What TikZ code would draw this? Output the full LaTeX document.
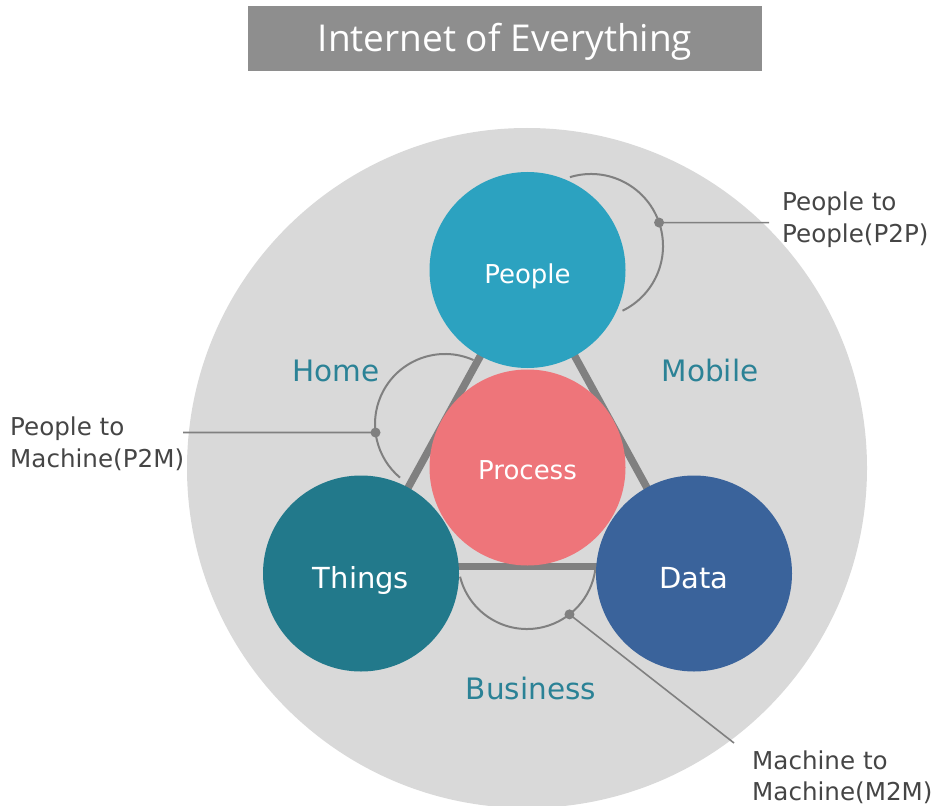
\documentclass[tikz,border=0pt]{standalone}
\usepackage{fontspec}
\setmainfont{DejaVu Sans}
\newfontfamily\titlefont{Open Sans}
\definecolor{bigc}{HTML}{D9D9D9}
\definecolor{peoplec}{HTML}{2CA2C0}
\definecolor{processc}{HTML}{EE757A}
\definecolor{thingsc}{HTML}{22798B}
\definecolor{datac}{HTML}{3A639B}
\definecolor{areac}{HTML}{2B8296}
\definecolor{linec}{HTML}{808080}
\definecolor{labc}{HTML}{454545}
\definecolor{titlec}{HTML}{8E8E8E}
\pgfdeclarelayer{bg}
\pgfsetlayers{bg,main}
\begin{document}
\begin{tikzpicture}[x=1pt,y=-1pt,
  hub/.style={circle, minimum size=196pt, inner sep=0pt, text=white, text depth=0pt},
  area/.style={text=areac, font=\fontsize{29.5}{35}\selectfont, anchor=base, inner sep=0pt},
  lab/.style={text=labc, font=\fontsize{24.6}{30}\selectfont, anchor=base west, inner sep=0pt},
  link/.style={draw=linec, line width=7.5pt},
  loopline/.style={draw=linec, line width=2pt},
  lead/.style={draw=linec, line width=1.6pt},
  dotmark/.style={fill=linec}]
\useasboundingbox (0,0) rectangle (936,805);

% title
\node[fill=titlec, minimum width=514pt, minimum height=65pt, inner sep=0pt,
      text=white, font=\titlefont\fontsize{37}{44}\selectfont,
      text height=26.4pt, text depth=0pt] (title) at (505,38.5) {Internet of Everything};

% hubs
\node[hub, fill=peoplec, text height=26pt, font=\fontsize{26}{30}\selectfont] (people) at (527.5,270) {People};
\node[hub, fill=thingsc, text height=29pt, font=\fontsize{29}{34}\selectfont] (things) at (361,573.5) {Things};
\node[hub, fill=datac, text height=29pt, font=\fontsize{29}{34}\selectfont] (data) at (694,573.5) {Data};
\node[hub, fill=processc, text height=23pt, font=\fontsize{26}{30}\selectfont] (process) at (527.5,467.5) {Process};

% area labels
\node[area] (home) at (336,381) {Home};
\node[area] (mobile) at (710,381) {Mobile};
\node[area] (business) at (531,699) {Business};

% side labels
\node[lab] (p2pa) at (782,210) {People to};
\node[lab] (p2pb) at (782,242) {People(P2P)};
\node[lab] (p2ma) at (10,435) {People to};
\node[lab] (p2mb) at (10,467) {Machine(P2M)};
\node[lab] (m2ma) at (752,769.5) {Machine to};
\node[lab] (m2mb) at (752,800) {Machine(M2M)};

% loop centres, dots, leader ends
\coordinate (p2pc) at (591,246);
\coordinate (p2mc) at (445,424);
\coordinate (m2mc) at (527,560);
\coordinate (p2pdot) at ([shift={(-19:72)}]p2pc);
\coordinate (p2mdot) at ([shift={(173:70)}]p2mc);
\coordinate (m2mdot) at ([shift={(52:69)}]m2mc);
\coordinate (p2pend) at (769,222.6);
\coordinate (p2mend) at (183,432.5);
\coordinate (m2mend) at (734,743);

\begin{pgfonlayer}{bg}
  \fill[bigc] (527,468) circle[radius=340];
  \draw[link] (people.center) -- (things.center);
  \draw[link] (people.center) -- (data.center);
  \draw[link] ([yshift=7pt]things.center) -- ([yshift=7pt]data.center);
  \draw[loopline] ([shift={(-107:72)}]p2pc) arc[start angle=-107, end angle=64, radius=72];
  \draw[loopline] ([shift={(294:70)}]p2mc) arc[start angle=294, end angle=130, radius=70];
  \draw[loopline] ([shift={(166:69)}]m2mc) arc[start angle=166, end angle=8, radius=69];
\end{pgfonlayer}

% leaders
\draw[lead] (p2pdot) -- (p2pend);
\draw[lead] (p2mdot) -- (p2mend);
\draw[lead] (m2mdot) -- (m2mend);
\fill[dotmark] (p2pdot) circle[radius=5];
\fill[dotmark] (p2mdot) circle[radius=5];
\fill[dotmark] (m2mdot) circle[radius=5];
\end{tikzpicture}
\end{document}
